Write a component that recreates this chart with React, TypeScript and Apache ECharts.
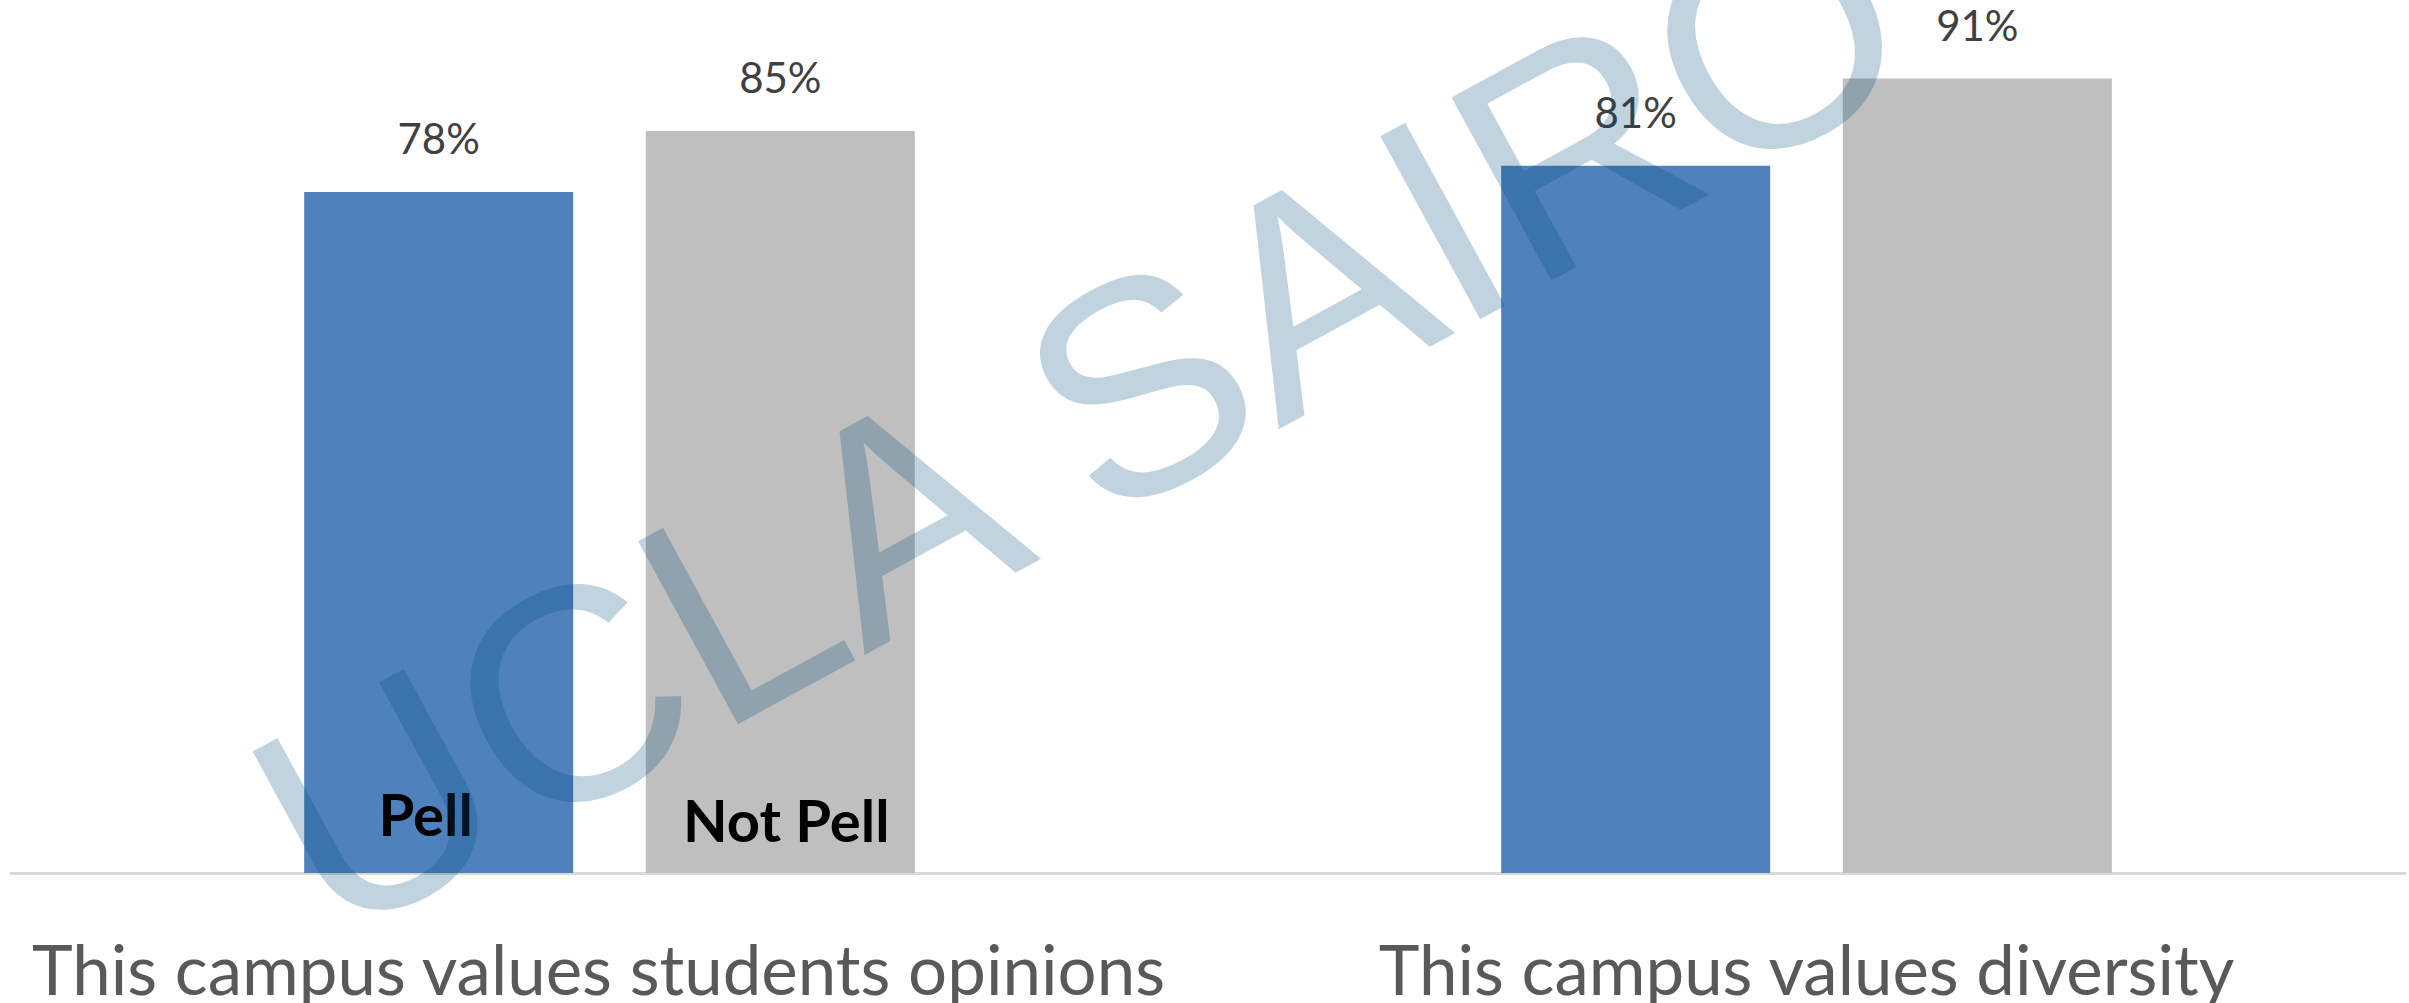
import React, { useEffect, useRef } from "react";
import * as echarts from "echarts";

const categories = ["This campus values students opinions", "This campus values diversity"];
const seriesNames = ["Pell", "Not Pell"];
const pellValues = [78, 81];
const notPellValues = [85, 91];
const nameLabelValues = [[78, "-"], [85, "-"]];
const watermarkText = "UCLA SAIRO";

const W = 2409;
const H = 1003;
const nameLabelOffsets = [[-13, -3], [6, 3]];

export default function App() {
  const ref = useRef<HTMLDivElement>(null);
  useEffect(() => {
    document.body.style.margin = "0";
    if (!ref.current) return;
    const chart = echarts.init(ref.current, undefined, { renderer: "svg" });

    const barCommon = {
      type: "bar" as const,
      barWidth: 269,
      barGap: "27%",
    };

    const valueLabel = {
      show: true,
      position: "top" as const,
      distance: 33,
      formatter: "{c}%",
      color: "#404040",
      fontFamily: "Lato",
      fontSize: 42,
    };

    chart.setOption({
      animation: false,
      grid: { left: 11, top: -2, width: 2394, height: 875, containLabel: false },
      xAxis: [
        {
          type: "category",
          data: categories.map((c, i) =>
            i === 0 ? { value: c, textStyle: { padding: [0, 22, 0, 0] } } : c
          ),
          axisLine: { show: true, lineStyle: { color: "#D9D9D9", width: 3 } },
          axisTick: { show: false },
          axisLabel: {
            interval: 0,
            color: "#595959",
            fontFamily: "Lato",
            fontSize: 69,
            margin: 61,
            hideOverlap: false,
          },
        },
        {
          type: "category",
          data: categories,
          show: false,
        },
      ],
      yAxis: { type: "value", min: 0, max: 100, show: false, splitLine: { show: false } },
      series: [
        {
          ...barCommon,
          name: seriesNames[0],
          data: pellValues,
          itemStyle: { color: "#4F81BD" },
          label: valueLabel,
        },
        {
          ...barCommon,
          name: seriesNames[1],
          data: notPellValues,
          itemStyle: { color: "#BFBFBF" },
          label: valueLabel,
        },
        ...seriesNames.map((n, i) => ({
          ...barCommon,
          name: n,
          xAxisIndex: 1,
          silent: true,
          data: nameLabelValues[i],
          itemStyle: { color: "rgba(0,0,0,0)" },
          label: {
            show: true,
            position: "insideBottom",
            distance: 28,
            offset: nameLabelOffsets[i],
            formatter: "{a}",
            color: "#000000",
            fontFamily: "Lato",
            fontWeight: "bold",
            fontSize: 58,
          },
        })),
      ],
      graphic: [
        {
          type: "text",
          x: 1080,
          y: 418,
          rotation: (28.6 * Math.PI) / 180,
          z: 100,
          silent: true,
          style: {
            text: watermarkText,
            fontFamily: "Liberation Sans",
            fontSize: 303,
            fill: "rgba(0,74,123,0.245)",
            textAlign: "center",
            textVerticalAlign: "middle",
          },
        },
      ],
    });
    return () => chart.dispose();
  }, []);
  return <div ref={ref} style={{ width: W, height: H }} />;
}
